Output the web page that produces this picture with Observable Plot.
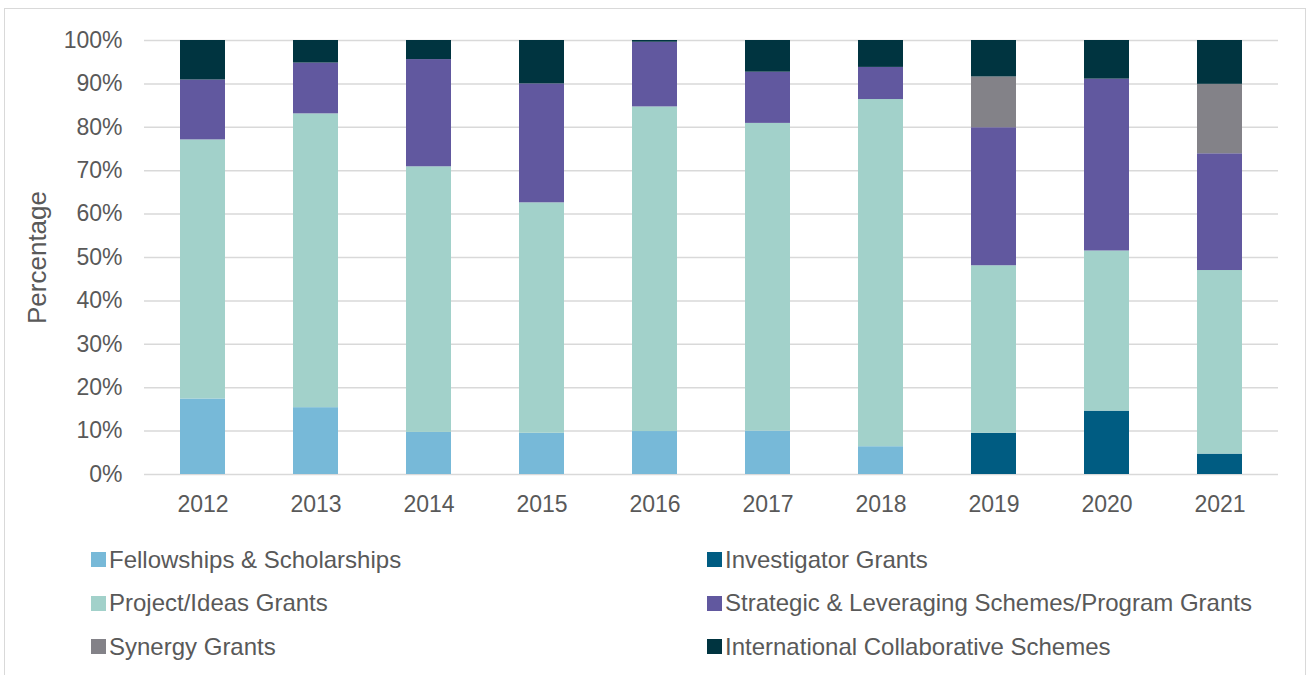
<!DOCTYPE html>
<html>
<head>
<meta charset="utf-8">
<script src="https://cdn.jsdelivr.net/npm/d3@7"></script>
<script src="https://cdn.jsdelivr.net/npm/@observablehq/plot@0.6"></script>
<style>
  html, body { margin: 0; padding: 0; background: #fff; }
  body { width: 1311px; height: 675px; overflow: hidden; position: relative;
         font-family: "Liberation Sans", Arial, sans-serif; color: #595959; }
  #frame { position: absolute; left: 4px; top: 8px; width: 1302px; height: 700px;
           border: 1.5px solid #d9d9d9; box-sizing: border-box; }
  #chart { position: absolute; left: 0; top: 0; }
  #chart svg g[aria-label="y-axis label"] text { font-size: 26px; }
  #legend { position: absolute; left: 91px; top: 538px; display: grid;
            grid-template-columns: 616px 600px; grid-auto-rows: 43.5px; }
  .item { display: flex; align-items: center; font-size: 24px; color: #595959; white-space: nowrap; }
  .sw { width: 15px; height: 15px; margin-right: 3px; flex: none; }
</style>
</head>
<body>
<div id="frame"></div>
<div id="chart"></div>
<div id="legend"></div>
<script>
const years = ["2012","2013","2014","2015","2016","2017","2018","2019","2020","2021"];
const seriesNames = [
  "Fellowships & Scholarships",
  "Investigator Grants",
  "Project/Ideas Grants",
  "Strategic & Leveraging Schemes/Program Grants",
  "Synergy Grants",
  "International Collaborative Schemes"
];
const colors = ["#77b9d8", "#005c82", "#a2d1ca", "#61589f", "#838288", "#003440"];
const fellowships   = [17.4, 15.4, 9.7, 9.5, 9.9, 10.0, 6.4, 0, 0, 0];
const investigator  = [0, 0, 0, 0, 0, 0, 0, 9.5, 14.6, 4.7];
const projectIdeas  = [59.7, 67.7, 61.2, 53.1, 74.8, 70.9, 80.0, 38.6, 36.9, 42.3];
const strategic     = [13.8, 11.7, 24.7, 27.4, 14.9, 11.8, 7.4, 31.8, 39.6, 26.9];
const synergy       = [0, 0, 0, 0, 0, 0, 0, 11.7, 0, 16.0];
const international = [9.1, 5.2, 4.4, 10.0, 0.4, 7.3, 6.2, 8.4, 8.9, 10.1];
const yTicks = [0,10,20,30,40,50,60,70,80,90,100];

const seriesValues = [fellowships, investigator, projectIdeas, strategic, synergy, international];
const data = [];
years.forEach((yr, i) => {
  seriesNames.forEach((s, j) => data.push({year: yr, series: s, value: seriesValues[j][i]}));
});

const chart = Plot.plot({
  width: 1311,
  height: 530,
  marginLeft: 144,
  marginRight: 33,
  marginTop: 40,
  marginBottom: 56,
  style: {fontFamily: "'Liberation Sans', Arial, sans-serif", fontSize: "23px", color: "#595959", background: "transparent", overflow: "visible"},
  x: {domain: years, paddingInner: 0.6, paddingOuter: 0.3, label: null},
  y: {domain: [0, 100], label: "Percentage"},
  color: {domain: seriesNames, range: colors},
  marks: [
    Plot.gridY(yTicks, {stroke: "#d9d9d9", strokeOpacity: 1, strokeWidth: 1.5}),
    Plot.barY(data, {x: "year", y: "value", fill: "series"}),
    Plot.axisX({tickSize: 0, tickPadding: 21, fontSize: "23px", label: null}),
    Plot.axisY({ticks: yTicks, tickSize: 0, tickPadding: 22, fontSize: "23px",
                tickFormat: d => d + "%", label: "Percentage", labelAnchor: "center",
                labelArrow: "none", labelOffset: 117, ariaLabel: "y-axis"})
  ]
});
document.getElementById("chart").appendChild(chart);

const legend = document.getElementById("legend");
seriesNames.forEach((s, j) => {
  const it = document.createElement("div");
  it.className = "item";
  const sw = document.createElement("span");
  sw.className = "sw";
  sw.style.background = colors[j];
  it.appendChild(sw);
  it.appendChild(document.createTextNode(s));
  legend.appendChild(it);
});
</script>
</body>
</html>
